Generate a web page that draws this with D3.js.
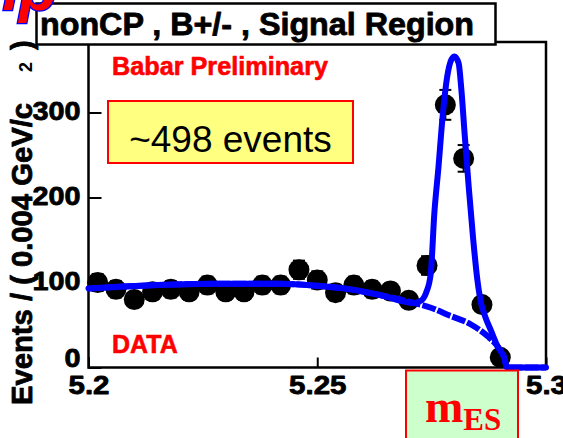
<!DOCTYPE html>
<html>
<head>
<meta charset="utf-8">
<script src="https://cdn.jsdelivr.net/npm/d3@7"></script>
<style>
  html, body { margin: 0; padding: 0; background: #fff; }
  svg { display: block; }
  .sans { font-family: "Liberation Sans", Arial, Helvetica, sans-serif; }
</style>
</head>
<body>
<svg id="chart" width="563" height="438"></svg>
<script>
// Histogram: bin centres (GeV/c^2) and event counts per 0.004 GeV/c^2
const binCenters = [5.202, 5.206, 5.210, 5.214, 5.218, 5.222, 5.226, 5.230, 5.234, 5.238,
                    5.242, 5.246, 5.250, 5.254, 5.258, 5.262, 5.266, 5.270, 5.274, 5.278,
                    5.282, 5.286, 5.290];
const binCounts = [100, 92, 80, 89, 92, 89, 97, 89, 89, 97,
                   97, 115, 103, 88, 97, 92, 90, 79, 120, 309,
                   246, 74, 12];

// Fitted total PDF (signal + background), sampled along mES
const fitMass  = [5.2000, 5.2127, 5.2273, 5.2420, 5.2492, 5.2566, 5.2639, 5.2711, 5.2725, 5.2738,
                  5.2748, 5.2756, 5.2765, 5.2774, 5.2784, 5.2793, 5.2800, 5.2809, 5.2815, 5.2822,
                  5.2831, 5.2841, 5.2850, 5.2858, 5.2867, 5.2880, 5.2894, 5.2909, 5.2915, 5.3000];
const fitTotal = [93, 96.5, 98.4, 98.4, 96.5, 92.5, 85, 76, 78, 88,
                  110, 182, 236, 295, 342, 362, 366, 358, 327, 276,
                  213, 150, 103, 76, 60, 43, 25, 11, 0, 0];

// Fitted background component (ARGUS shape)
const bkgMass   = [5.2000, 5.2127, 5.2273, 5.2420, 5.2492, 5.2566, 5.2639, 5.2711, 5.2750, 5.2785,
                   5.2836, 5.2872, 5.2894, 5.2909, 5.2915, 5.3000];
const bkgValues = [93, 96.5, 98.4, 98.4, 96.5, 92.5, 85, 76, 70, 62,
                   50.6, 37, 25, 11, 0, 0];

const xTicks = [5.2, 5.25, 5.3];
const xTickLabels = ["5.2", "5.25", "5.3"];
const yTicks = [0, 100, 200, 300];
const yTickLabels = ["0", "100", "200", "300"];

const svg = d3.select("#chart");

// Stretch a text horizontally by a factor, keeping its anchor
function widen(sel, factor) {
  sel.each(function () {
    const w = this.getComputedTextLength();
    d3.select(this).attr("textLength", w * factor).attr("lengthAdjust", "spacingAndGlyphs");
  });
}
// Heavy bold look: outline glyphs in their own fill colour
function heavy(sel, color, w) {
  sel.attr("stroke", color).attr("stroke-width", w).attr("stroke-linejoin", "round");
}

const plot = { left: 88.5, right: 546, top: 42, bottom: 367.5 };
const x = d3.scaleLinear().domain([5.2, 5.3]).range([plot.left, plot.right]);
const y = d3.scaleLinear().domain([0, 300]).range([plot.bottom, 112.5]);

// Y axis: inward ticks, bold labels
const yAxis = d3.axisLeft(y)
  .tickValues(yTicks)
  .tickFormat((d, i) => yTickLabels[i])
  .tickSize(-13)
  .tickPadding(8);
const gy = svg.append("g")
  .attr("transform", `translate(${plot.left},0)`)
  .call(yAxis);
gy.select(".domain").remove();
gy.selectAll(".tick line").attr("stroke", "#000").attr("stroke-width", 2);
const yLabels = gy.selectAll(".tick text")
  .attr("class", "sans")
  .attr("font-size", 25).attr("font-weight", "bold").attr("fill", "#000")
  .attr("dy", d => d === 0 ? "-0.05em" : "0.28em");
heavy(yLabels, "#000", 0.8);
widen(yLabels, 1.15);

// X axis
const xAxis = d3.axisBottom(x)
  .tickValues(xTicks)
  .tickFormat((d, i) => xTickLabels[i])
  .tickSize(-10)
  .tickPadding(9);
const gx = svg.append("g")
  .attr("transform", `translate(0,${plot.bottom})`)
  .call(xAxis);
gx.select(".domain").remove();
gx.selectAll(".tick line").attr("stroke", "#000").attr("stroke-width", 2);
const xLabels = gx.selectAll(".tick text")
  .attr("class", "sans")
  .attr("font-size", 25).attr("font-weight", "bold").attr("fill", "#000");
heavy(xLabels, "#000", 0.8);
widen(xLabels, 1.18);

// Frame
svg.append("rect")
  .attr("x", plot.left).attr("y", plot.top)
  .attr("width", plot.right - plot.left).attr("height", plot.bottom - plot.top)
  .attr("fill", "none").attr("stroke", "#000").attr("stroke-width", 2.5);

// Data points with Poisson error bars
const pts = svg.append("g");
const bars = binCenters.map((m, i) => ({ m, n: binCounts[i] }));
pts.selectAll("line.err").data(bars).join("line")
  .attr("x1", d => x(d.m)).attr("x2", d => x(d.m))
  .attr("y1", d => y(d.n - Math.sqrt(d.n))).attr("y2", d => y(d.n + Math.sqrt(d.n)))
  .attr("stroke", "#000").attr("stroke-width", 2);
[-1, 1].forEach(s => {
  pts.selectAll(`line.cap${s}`).data(bars).join("line")
    .attr("x1", d => x(d.m) - 6).attr("x2", d => x(d.m) + 6)
    .attr("y1", d => y(d.n + s * Math.sqrt(d.n))).attr("y2", d => y(d.n + s * Math.sqrt(d.n)))
    .attr("stroke", "#000").attr("stroke-width", 2);
});
pts.selectAll("circle").data(bars).join("circle")
  .attr("cx", d => x(d.m)).attr("cy", d => y(d.n))
  .attr("r", 10.5).attr("fill", "#000");

// Fit curves
const line = d3.line().x(d => x(d[0])).y(d => y(d[1])).curve(d3.curveMonotoneX);
svg.append("path")
  .datum(bkgMass.map((m, i) => [m, bkgValues[i]]))
  .attr("d", line)
  .attr("fill", "none").attr("stroke", "#0000ff").attr("stroke-width", 6)
  .attr("stroke-dasharray", "14,2");
svg.append("path")
  .datum(fitMass.map((m, i) => [m, fitTotal[i]]))
  .attr("d", line)
  .attr("fill", "none").attr("stroke", "#0000ff").attr("stroke-width", 6)
  .attr("stroke-linecap", "round").attr("stroke-linejoin", "round");

// Annotations inside the frame
const babar = svg.append("text").attr("class", "sans")
  .attr("x", 112).attr("y", 75)
  .attr("font-size", 25).attr("font-weight", "bold").attr("fill", "#ff0000")
  .attr("textLength", 216).attr("lengthAdjust", "spacingAndGlyphs")
  .text("Babar Preliminary");
heavy(babar, "#ff0000", 0.6);

svg.append("rect")
  .attr("x", 108).attr("y", 101).attr("width", 245).attr("height", 62)
  .attr("fill", "#ffff80").attr("stroke", "#ff0000").attr("stroke-width", 2);
svg.append("text").attr("class", "sans")
  .attr("x", 230.5).attr("y", 152).attr("text-anchor", "middle")
  .attr("font-size", 37).attr("fill", "#000")
  .text("~498 events");

const dataLbl = svg.append("text").attr("class", "sans")
  .attr("x", 112).attr("y", 353)
  .attr("font-size", 25).attr("font-weight", "bold").attr("fill", "#ff0000")
  .text("DATA");
heavy(dataLbl, "#ff0000", 0.6);

// Y axis title (rotated)
const ylab = svg.append("g").attr("transform", "translate(32,405) rotate(-90)");
const ytitle = ylab.append("text").attr("class", "sans")
  .attr("x", 0).attr("y", 0)
  .attr("font-size", 29).attr("font-weight", "bold").attr("fill", "#000")
  .attr("textLength", 302).attr("lengthAdjust", "spacingAndGlyphs")
  .text("Events / ( 0.004 GeV/c");
heavy(ytitle, "#000", 0.8);
ylab.append("text").attr("class", "sans")
  .attr("x", 333).attr("y", 0)
  .attr("font-size", 18).attr("font-weight", "bold").attr("fill", "#000")
  .text("2");
heavy(ylab.append("text").attr("class", "sans")
  .attr("x", 355).attr("y", 0)
  .attr("font-size", 29).attr("font-weight", "bold").attr("fill", "#000")
  .text(")"), "#000", 0.8);

// Title box
svg.append("rect")
  .attr("x", 36.5).attr("y", 3.5).attr("width", 459).attr("height", 41)
  .attr("fill", "#fff").attr("stroke", "#000").attr("stroke-width", 2.5);
const title = svg.append("text").attr("class", "sans")
  .attr("x", 40).attr("y", 35)
  .attr("font-size", 31).attr("font-weight", "bold").attr("fill", "#000")
  .attr("textLength", 434).attr("lengthAdjust", "spacingAndGlyphs")
  .text("nonCP , B+/- , Signal Region");
heavy(title, "#000", 0.8);

// X axis title box
svg.append("rect")
  .attr("x", 406).attr("y", 370.5).attr("width", 112).attr("height", 80)
  .attr("fill", "#ccffcc").attr("stroke", "#ff0000").attr("stroke-width", 2);
const xt = svg.append("text")
  .attr("x", 425).attr("y", 422)
  .attr("font-family", "'Liberation Serif', 'Times New Roman', serif")
  .attr("font-weight", "bold").attr("fill", "#ff0000");
xt.append("tspan").attr("font-size", 46).text("m");
xt.append("tspan").attr("font-size", 31).attr("dy", 8).text("ES");

// Slide heading fragment at the top-left corner
svg.append("text").attr("class", "sans")
  .attr("x", 57).attr("y", 10).attr("text-anchor", "end")
  .attr("font-size", 62).attr("font-weight", "bold").attr("font-style", "italic")
  .attr("fill", "#ff0000").attr("stroke", "#0000ff").attr("stroke-width", 2.5)
  .attr("paint-order", "stroke")
  .text("mp");
</script>
</body>
</html>
